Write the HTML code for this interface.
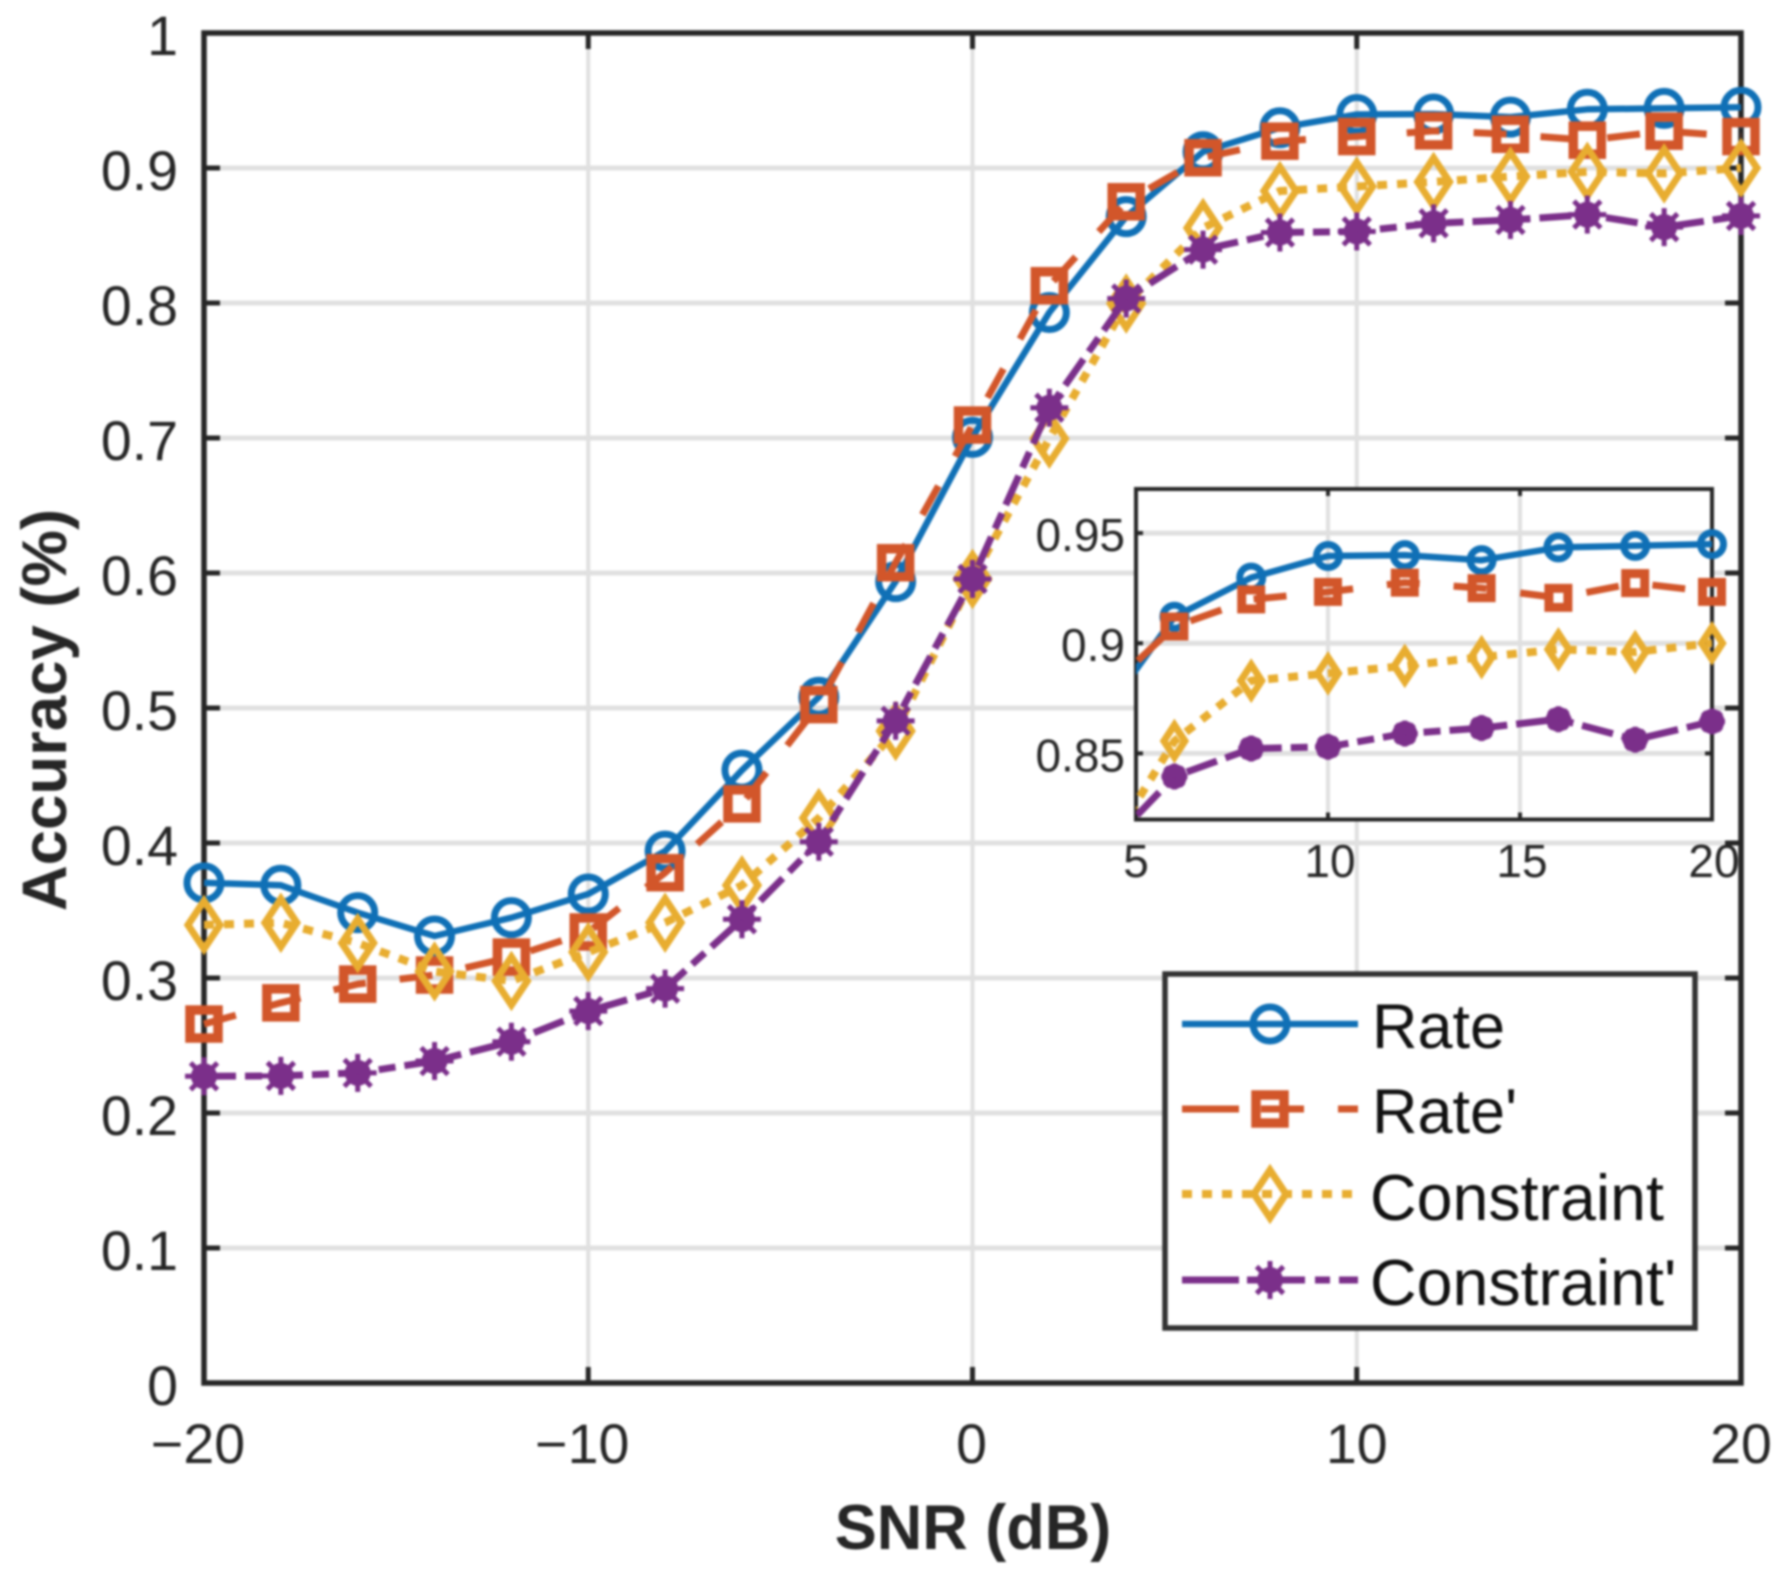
<!DOCTYPE html>
<html>
<head>
<meta charset="utf-8">
<title>Accuracy vs SNR</title>
<style>
html,body{margin:0;padding:0;background:#fff}
#chart-wrap{position:relative;width:1790px;height:1574px;overflow:hidden}
svg{display:block}
#blur-layer{filter:blur(1px)}
text{font-family:"Liberation Sans",Arial,sans-serif;fill:#262626}
</style>
</head>
<body>
<div id="chart-wrap">
<svg id="chart" xmlns="http://www.w3.org/2000/svg" width="1790" height="1574" viewBox="0 0 1790 1574">
  <defs>
    <clipPath id="inset-clip"><rect x="1136" y="489" width="576" height="330.5"/></clipPath>
  </defs>
  <rect x="0" y="0" width="1790" height="1574" fill="#fff"/>
  <g id="blur-layer">
  <rect x="204" y="33" width="1537" height="1350" fill="#fff"/>
  <g id="main-grid"></g>
  <rect x="204" y="33" width="1537" height="1350" fill="none" stroke="#262626" stroke-width="5.5"/>
  <g id="main-ticks"></g>
  <g id="main-series"></g>
  <rect x="1136" y="489" width="576" height="330.5" fill="#fff"/>
  <g id="inset-grid"></g>
  <rect x="1136" y="489" width="576" height="330.5" fill="none" stroke="#262626" stroke-width="4"/>
  <g id="inset-ticks"></g>
  <g id="inset-series"></g>
  <text x="973" y="1549" font-size="63" font-weight="bold" text-anchor="middle">SNR (dB)</text>
  <text transform="translate(66,710) rotate(-90)" font-size="63.5" font-weight="bold" text-anchor="middle">Accuracy (%)</text>
  <g id="legend">
    <rect x="1165" y="974" width="530" height="354" fill="#fff" stroke="#333" stroke-width="5.5"/>
    <text x="1372" y="1048" font-size="63" style="fill:#111">Rate</text>
    <text x="1372" y="1133" font-size="63" style="fill:#111">Rate'</text>
    <text x="1370" y="1220" font-size="64.5" style="fill:#111">Constraint</text>
    <text x="1370" y="1305" font-size="64.5" style="fill:#111">Constraint'</text>
  </g>
  </g>
</svg>
</div>
<script>
const snrValues = [-20,-18,-16,-14,-12,-10,-8,-6,-4,-2,0,2,4,6,8,10,12,14,16,18,20];
const rateValues = [0.3705,0.3687,0.3484,0.3311,0.3447,0.3622,0.394,0.454,0.508,0.5936,0.7005,0.793,0.864,0.912,0.9298,0.9396,0.940,0.9377,0.9435,0.9442,0.945];
const ratePrimeValues = [0.2659,0.2816,0.2955,0.3022,0.3155,0.3341,0.378,0.429,0.5025,0.6076,0.7096,0.8128,0.875,0.9076,0.9199,0.9233,0.9275,0.925,0.9206,0.9273,0.9233];
const constraintValues = [0.3393,0.3409,0.3259,0.3049,0.2978,0.3192,0.341,0.3687,0.4185,0.483,0.5956,0.6995,0.7996,0.8556,0.883,0.8863,0.8897,0.8937,0.8972,0.896,0.900];
const constraintPrimeValues = [0.2272,0.2275,0.2297,0.2385,0.2528,0.2755,0.2921,0.3435,0.4009,0.4905,0.5956,0.7224,0.8033,0.8395,0.8522,0.853,0.859,0.8615,0.8655,0.8562,0.8645];
const seriesNames = ['rate','rate-prime','constraint','constraint-prime'];
const seriesValues = [rateValues,ratePrimeValues,constraintValues,constraintPrimeValues];
const mainXTicks = [-20,-10,0,10,20];
const mainXTickLabels = ['\u221220','\u221210','0','10','20'];
const mainYTicks = [0,0.1,0.2,0.3,0.4,0.5,0.6,0.7,0.8,0.9,1];
const mainYTickLabels = ['0','0.1','0.2','0.3','0.4','0.5','0.6','0.7','0.8','0.9','1'];
const insetXTicks = [5,10,15,20];
const insetXTickLabels = ['5','10','15','20'];
const insetYTicks = [0.85,0.9,0.95];
const insetYTickLabels = ['0.85','0.9','0.95'];

const NS = 'http://www.w3.org/2000/svg';
const seriesColors = ['#1070b6','#d2562a','#e8ad30','#7b2f8a'];
const seriesDashes = ['', '33 34', '10 10', '32 9 17 9'];
const legendDashes = ['', '57 22 43 34 30', '10 10', '57 8 58 10 15 9 30'];
const seriesWidths = [6.5, 7, 8, 7];
const insetDashOffsets = [0, 12, 0, 10];

function mainX(v){ return 204 + (v + 20) * 1537 / 40; }
function mainY(v){ return 1383 - v * 1350; }
function insetX(v){ return 1136 + (v - 5) * 576 / 15; }
function insetY(v){ return 819.5 - (v - 0.82) * 330.5 / 0.15; }

function mk(parent, tag, attrs){
  const el = document.createElementNS(NS, tag);
  for (const k in attrs) el.setAttribute(k, attrs[k]);
  parent.appendChild(el);
  return el;
}
function gridAndTicks(gridG, tickG, xs, ys, xLab, yLab, X, Y, box, o){
  xs.forEach(function(v, i){
    const g = mk(gridG, 'line', {x1:X(v), x2:X(v), y1:box.top, y2:box.bottom, stroke:'#e0e0e0', 'stroke-width':o.gridV});
    
    
    const t1 = mk(tickG, 'line', {x1:X(v), x2:X(v), y1:box.bottom, y2:box.bottom - o.tick, stroke:'#262626', 'stroke-width':o.tickW});
    
    
    const t2 = mk(tickG, 'line', {x1:X(v), x2:X(v), y1:box.top, y2:box.top + o.tick, stroke:'#262626', 'stroke-width':o.tickW});
    
    
    const dx = o.xShift(i);
    const l = mk(tickG, 'text', {x:X(v) + dx, y:o.xBase, 'font-size':o.font, 'text-anchor':'middle'});
    l.textContent = xLab[i];
    
    
  });
  ys.forEach(function(v, i){
    const g = mk(gridG, 'line', {x1:box.left, x2:box.right, y1:Y(v), y2:Y(v), stroke:'#e0e0e0', 'stroke-width':o.gridH});
    
    
    const t1 = mk(tickG, 'line', {x1:box.left, x2:box.left + o.tick, y1:Y(v), y2:Y(v), stroke:'#262626', 'stroke-width':o.tickW});
    
    
    const t2 = mk(tickG, 'line', {x1:box.right, x2:box.right - o.tick, y1:Y(v), y2:Y(v), stroke:'#262626', 'stroke-width':o.tickW});
    
    
    const l = mk(tickG, 'text', {x:o.yRight, y:Y(v) + o.yBase, 'font-size':o.font, 'text-anchor':'end'});
    l.textContent = yLab[i];
    
    
  });
}
function marker(parent, kind, cx, cy, s, color){
  let el;
  if (kind === 0){
    el = mk(parent, 'circle', {cx:cx, cy:cy, r:s.r, fill:'none', stroke:color, 'stroke-width':s.sw});
  } else if (kind === 1){
    el = mk(parent, 'rect', {x:cx - s.sq, y:cy - s.sq, width:2 * s.sq, height:2 * s.sq, fill:'none', stroke:color, 'stroke-width':s.sqw});
  } else if (kind === 2){
    el = mk(parent, 'polygon', {points:(cx - s.dw) + ',' + cy + ' ' + cx + ',' + (cy - s.dh) + ' ' + (cx + s.dw) + ',' + cy + ' ' + cx + ',' + (cy + s.dh), fill:'none', stroke:color, 'stroke-width':s.sw});
  } else {
    el = mk(parent, 'g', {});
    mk(el, 'circle', {cx:cx, cy:cy, r:s.dot, fill:color});
    for (let a = 0; a < 8; a++){
      const ang = a * Math.PI / 4;
      mk(el, 'line', {x1:cx, y1:cy, x2:cx + s.spoke * Math.cos(ang), y2:cy + s.spoke * Math.sin(ang), stroke:color, 'stroke-width':5});
    }
  }
  return el;
}
function drawSeries(parent, X, Y, minSnr, s, clipId, offsets){
  seriesValues.forEach(function(values, si){
    const pts = [];
    snrValues.forEach(function(x, i){
      if (x >= minSnr - 1) pts.push((pts.length ? 'L' : 'M') + X(x).toFixed(1) + ' ' + Y(values[i]).toFixed(1));
    });
    const path = mk(parent, 'path', {d:pts.join(' '), fill:'none', stroke:seriesColors[si], 'stroke-width':seriesWidths[si], 'stroke-linejoin':'round'});
    if (seriesDashes[si]) path.setAttribute('stroke-dasharray', seriesDashes[si]);
    if (offsets) path.setAttribute('stroke-dashoffset', offsets[si]);
    if (clipId) path.setAttribute('clip-path', 'url(#' + clipId + ')');
    
    
    snrValues.forEach(function(x, i){
      if (x < minSnr) return;
      const m = marker(parent, si, X(x), Y(values[i]), s, seriesColors[si]);
      
      
    });
  });
}

gridAndTicks(document.getElementById('main-grid'), document.getElementById('main-ticks'),
  mainXTicks, mainYTicks, mainXTickLabels, mainYTickLabels, mainX, mainY,
  {left:204, right:1741, top:33, bottom:1383},
  {gridV:4, gridH:5, tick:16, tickW:5, font:55.5, xBase:1463, yRight:178, yBase:22,
   xShift:function(i){ return mainXTicks[i] < 0 ? -6 : (mainXTicks[i] === 0 ? -1 : 0); }});
gridAndTicks(document.getElementById('inset-grid'), document.getElementById('inset-ticks'),
  insetXTicks, insetYTicks, insetXTickLabels, insetYTickLabels, insetX, insetY,
  {left:1136, right:1712, top:489, bottom:819.5},
  {gridV:4, gridH:5, tick:7, tickW:4, font:46, xBase:877, yRight:1125, yBase:18,
   xShift:function(i){ return i === 0 ? 0 : 2; }});

const mainMarkerSize = {r:17, sw:7, sq:14, sqw:9.5, dw:16, dh:24, dot:13, spoke:19};
const insetMarkerSize = {r:11.5, sw:7, sq:9.5, sqw:9, dw:10.5, dh:16, dot:12.5, spoke:13};
drawSeries(document.getElementById('main-series'), mainX, mainY, -20, mainMarkerSize, null, null);
drawSeries(document.getElementById('inset-series'), insetX, insetY, 5, insetMarkerSize, 'inset-clip', insetDashOffsets);

const legendG = document.getElementById('legend');
const legendRows = [1024, 1109, 1194, 1280];
seriesNames.forEach(function(name, si){
  const ln = mk(legendG, 'line', {x1:1182, x2:1358, y1:legendRows[si], y2:legendRows[si], stroke:seriesColors[si], 'stroke-width':seriesWidths[si]});
  if (legendDashes[si]) ln.setAttribute('stroke-dasharray', legendDashes[si]);
  
  
  const m = marker(legendG, si, 1270, legendRows[si], mainMarkerSize, seriesColors[si]);
  
  
});
</script>
</body>
</html>
